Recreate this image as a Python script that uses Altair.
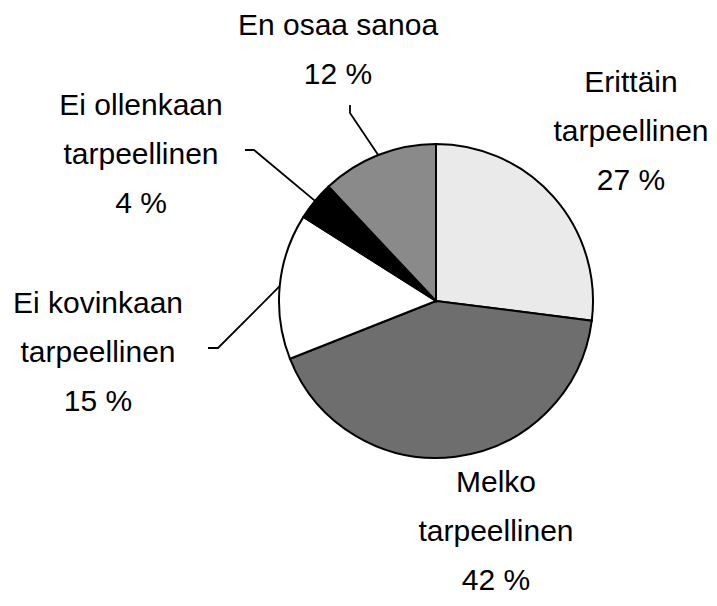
import math
import altair as alt
import pandas as pd

# ---- data ----
categories = [
    "Erittäin tarpeellinen",
    "Melko tarpeellinen",
    "Ei kovinkaan tarpeellinen",
    "Ei ollenkaan tarpeellinen",
    "En osaa sanoa",
]
values = [27, 42, 15, 4, 12]
label_lines = [
    ["Erittäin", "tarpeellinen"],
    ["Melko", "tarpeellinen"],
    ["Ei kovinkaan", "tarpeellinen"],
    ["Ei ollenkaan", "tarpeellinen"],
    ["En osaa sanoa"],
]
fills = ["#eaeaea", "#6e6e6e", "#ffffff", "#000000", "#8a8a8a"]

# ---- layout (pixels, chart coordinates; page = chart + 8) ----
W, H = 701, 590
CX, CY, R = 428, 293, 157
label_x = [623, 488, 90, 133, 330]
label_first_baseline = [84, 484, 305, 107, 27]
LINE_H = 49
# leader lines: start point and elbow (None = no leader)
leader_pts = [
    None,
    None,
    [(200, 340), (210, 340)],
    [(237, 142), (246, 142)],
    [(342, 97), (342, 105)],
]

# ---- tables ----
pie_df = pd.DataFrame({
    "cat": categories,
    "value": values,
    "idx": list(range(len(values))),
})

text_rows = []
for i, (cat, v) in enumerate(zip(categories, values)):
    lines = label_lines[i] + [f"{v} %"]
    for j, ln in enumerate(lines):
        text_rows.append({
            "cat": cat,
            "text": ln,
            "x": label_x[i],
            "y": label_first_baseline[i] + j * LINE_H,
        })
text_df = pd.DataFrame(text_rows)

line_rows = []
cum = 0
for i, v in enumerate(values):
    mid = 2 * math.pi * (cum + v / 2) / sum(values)
    cum += v
    if leader_pts[i] is None:
        continue
    ex = CX + R * math.sin(mid)
    ey = CY - R * math.cos(mid)
    pts = leader_pts[i] + [(ex, ey)]
    for k, (px, py) in enumerate(pts):
        line_rows.append({"cat": categories[i], "ord": k, "x": px, "y": py})
line_df = pd.DataFrame(line_rows)

pie = alt.Chart(pie_df).mark_arc(
    radius=R, stroke="black", strokeWidth=2
).encode(
    theta=alt.Theta("value:Q", stack=True),
    order=alt.Order("idx:Q"),
    color=alt.Color(
        "cat:N",
        scale=alt.Scale(domain=categories, range=fills),
        legend=None,
    ),
    x=alt.value(CX),
    y=alt.value(CY),
)

leaders = alt.Chart(line_df).mark_line(
    color="black", strokeWidth=1.8
).encode(
    x=alt.X("x:Q", scale=None),
    y=alt.Y("y:Q", scale=None),
    detail="cat:N",
    order="ord:Q",
)

labels = alt.Chart(text_df).mark_text(
    font="Liberation Sans",
    fontSize=30,
    color="black",
    align="center",
    baseline="alphabetic",
).encode(
    x=alt.X("x:Q", scale=None),
    y=alt.Y("y:Q", scale=None),
    text="text:N",
)

chart = alt.layer(pie, leaders, labels).properties(
    width=W,
    height=H,
    padding=0,
    autosize=alt.AutoSizeParams(type="none"),
).configure_view(stroke=None)

chart.save("out.html", embed_options={"renderer": "svg", "actions": False})
